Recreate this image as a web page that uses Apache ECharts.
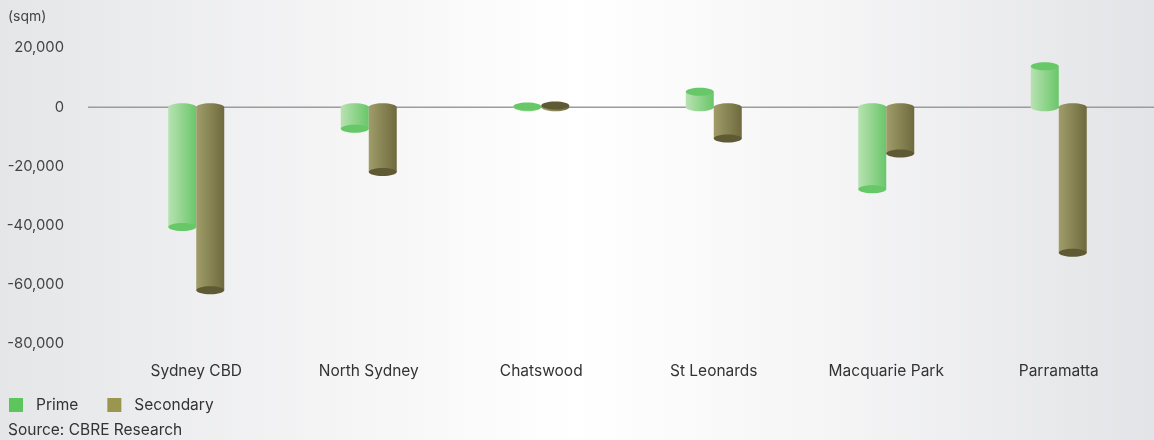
<!DOCTYPE html>
<html>
<head>
<meta charset="utf-8">
<script src="https://cdn.jsdelivr.net/npm/echarts@6/dist/echarts.min.js"></script>
<style>html,body{margin:0;padding:0;}#c{width:1154px;height:440px;}</style>
</head>
<body>
<div id="c"></div>
<script>
const categories = ['Sydney CBD', 'North Sydney', 'Chatswood', 'St Leonards', 'Macquarie Park', 'Parramatta'];
const primeValues = [-40500, -7300, 200, 5200, -27700, 13800];
const secondaryValues = [-61800, -21900, 600, -10600, -15600, -49200];
const yTicks = { min: -80000, max: 20000, interval: 20000 };
const unitLabel = '(sqm)';
const sourceText = 'Source: CBRE Research';

const FONT = 'Inter, "Noto Sans", sans-serif';
const chart = echarts.init(document.getElementById('c'), null, { renderer: 'canvas' });

function cylinder(offsetSign, bodyLeft, bodyRight, capColor) {
  return function (params, api) {
    const idx = api.value(0);
    const val = api.value(1);
    const pEnd = api.coord([idx, val]);
    const pZero = api.coord([idx, 0]);
    const w = 28, ry = 4;
    const cx = pEnd[0] + offsetSign * w / 2;
    const grad = new echarts.graphic.LinearGradient(0, 0, 1, 0, [
      { offset: 0, color: bodyLeft }, { offset: 1, color: bodyRight }
    ]);
    const top = Math.min(pEnd[1], pZero[1]);
    const h = Math.abs(pEnd[1] - pZero[1]);
    return {
      type: 'group',
      children: [
        { type: 'ellipse', shape: { cx: cx, cy: pZero[1], rx: w / 2, ry: ry }, style: { fill: grad } },
        { type: 'rect', shape: { x: cx - w / 2, y: top, width: w, height: h }, style: { fill: grad } },
        { type: 'ellipse', shape: { cx: cx, cy: pEnd[1], rx: w / 2, ry: ry }, style: { fill: capColor } }
      ]
    };
  };
}

const option = {
  backgroundColor: new echarts.graphic.LinearGradient(0, 0, 1, 0, [
    { offset: 0, color: '#e5e6e8' },
    { offset: 0.3, color: '#f5f5f6' },
    { offset: 0.5, color: '#ffffff' },
    { offset: 0.72, color: '#f5f5f6' },
    { offset: 1, color: '#e3e4e7' }
  ]),
  animation: false,
  textStyle: { fontFamily: FONT },
  title: [
    { text: unitLabel, left: 3, top: 5, textStyle: { fontSize: 14, fontWeight: 'normal', color: '#444', fontFamily: FONT } },
    { text: sourceText, left: 3, top: 417, textStyle: { fontSize: 15.5, fontWeight: 'normal', color: '#333', fontFamily: FONT } }
  ],
  legend: {
    left: 4, top: 392,
    icon: 'rect', itemWidth: 14, itemHeight: 14, itemGap: 29,
    textStyle: { fontSize: 15.5, color: '#333', fontFamily: FONT, padding: [0, 0, 0, 8] },
    data: ['Prime', 'Secondary']
  },
  grid: [
    { left: 110, right: 9, top: 48, bottom: 96 },
    { left: 88, right: 0, top: 48, bottom: 96 }
  ],
  xAxis: [
    {
      type: 'category', data: categories, gridIndex: 0,
      axisLine: { show: false }, axisTick: { show: false },
      axisLabel: { fontSize: 15.5, color: '#333', margin: 19, fontFamily: FONT }
    },
    { type: 'value', gridIndex: 1, min: 0, max: 1, show: false }
  ],
  yAxis: [
    {
      type: 'value', gridIndex: 0, min: yTicks.min, max: yTicks.max, interval: yTicks.interval,
      splitLine: { show: false }, axisLine: { show: false }, axisTick: { show: false },
      axisLabel: {
        fontSize: 14.8, color: '#444', margin: 46, fontFamily: FONT,
        formatter: v => v.toLocaleString('en-US')
      }
    },
    { type: 'value', gridIndex: 1, min: yTicks.min, max: yTicks.max, show: false }
  ],
  series: [
    {
      type: 'line', xAxisIndex: 1, yAxisIndex: 1, z: 1, silent: true,
      data: [[0, 0], [1, 0]], symbol: 'none',
      lineStyle: { color: '#9c9c9c', width: 1.5 }
    },
    {
      name: 'Prime', type: 'custom', xAxisIndex: 0, yAxisIndex: 0, z: 3,
      itemStyle: { color: '#5cc65c' },
      renderItem: cylinder(-1, '#b8e2b1', '#6ac66a', '#66c866'),
      data: primeValues.map((v, i) => [i, v])
    },
    {
      name: 'Secondary', type: 'custom', xAxisIndex: 0, yAxisIndex: 0, z: 3,
      itemStyle: { color: '#9a954f' },
      renderItem: cylinder(1, '#a09d6a', '#6e6a3e', '#5f5a33'),
      data: secondaryValues.map((v, i) => [i, v])
    }
  ]
};
chart.setOption(option);
</script>
</body>
</html>
